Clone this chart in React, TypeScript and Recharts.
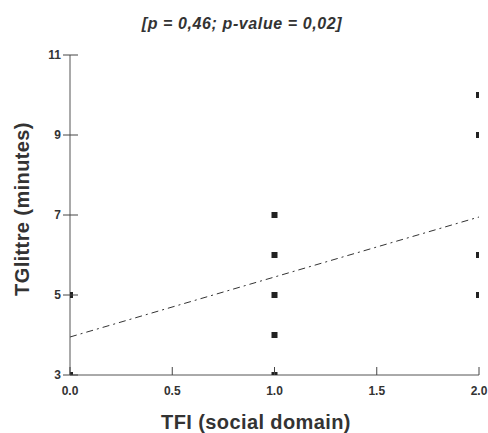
import { ScatterChart, Scatter, XAxis, YAxis, ReferenceLine } from "recharts";

// TFI social domain score vs TGlittre time
const tfiScores = [0, 0, 1, 1, 1, 1, 1, 2, 2, 2, 2];
const glittreMinutes = [3, 5, 3, 4, 5, 6, 7, 5, 6, 9, 10];

const trendX = [0, 2];
const trendY = [3.95, 6.95];

const xTicks = [0, 0.5, 1, 1.5, 2];
const yTicks = [3, 5, 7, 9, 11];

const points = tfiScores.map((x, i) => ({ x, y: glittreMinutes[i] }));

const font = "'Liberation Sans', Arial, sans-serif";

function XTick(props: any) {
  const { x, y, payload } = props;
  return (
    <g>
      <line x1={x} x2={x} y1={y - 8} y2={y} stroke="#444" />
      <text x={x} y={y + 20} textAnchor="middle" fontSize={12} fontWeight="bold" fill="#333" fontFamily={font}>
        {Number(payload.value).toFixed(1)}
      </text>
    </g>
  );
}

function YTick(props: any) {
  const { x, y, payload } = props;
  return (
    <g>
      <line x1={x + 1} x2={x + 16} y1={y} y2={y} stroke="#444" />
      <text x={x - 1} y={y + 4} textAnchor="end" fontSize={12} fontWeight="bold" fill="#333" fontFamily={font}>
        {payload.value}
      </text>
    </g>
  );
}

function Square(props: any) {
  const { cx, cy } = props;
  return <rect x={cx - 3} y={cy - 3} width={6} height={6} fill="#222" />;
}

const labelStyle = {
  position: "absolute" as const,
  fontFamily: font,
  fontWeight: "bold" as const,
  color: "#333",
  whiteSpace: "nowrap" as const,
  lineHeight: 1,
};

export default function App() {
  return (
    <div style={{ position: "absolute", left: 0, top: 0, width: 488, height: 433, background: "#fff", overflow: "hidden" }}>
      <ScatterChart width={488} height={433} margin={{ top: 55, right: 9, bottom: 0, left: 0 }}>
        <XAxis
          type="number"
          dataKey="x"
          domain={[0, 2]}
          ticks={xTicks}
          tick={<XTick />}
          tickLine={false}
          tickSize={0}
          tickMargin={0}
          height={58}
          axisLine={{ stroke: "#555" }}
          allowDataOverflow
        />
        <YAxis
          type="number"
          dataKey="y"
          domain={[3, 11]}
          ticks={yTicks}
          tick={<YTick />}
          tickLine={false}
          tickSize={0}
          tickMargin={8}
          width={70}
          axisLine={{ stroke: "#555" }}
          allowDataOverflow
        />
        <ReferenceLine
          segment={[
            { x: trendX[0], y: trendY[0] },
            { x: trendX[1], y: trendY[1] },
          ]}
          stroke="#333"
          strokeWidth={1}
          strokeDasharray="7 4 2 4"
        />
        <Scatter data={points} shape={<Square />} isAnimationActive={false} />
      </ScatterChart>
      <div style={{ ...labelStyle, left: 0, top: 16, width: 488, textAlign: "center", fontSize: 16, fontStyle: "italic", letterSpacing: 0.6, marginLeft: -2 }}>
        [p = 0,46; p-value = 0,02]
      </div>
      <div style={{ ...labelStyle, left: 156, width: 200, top: 412, textAlign: "center", fontSize: 20, letterSpacing: 0.4 }}>
        TFI (social domain)
      </div>
      <div
        style={{
          ...labelStyle,
          left: 22 - 100,
          top: 209 - 10,
          width: 200,
          textAlign: "center",
          fontSize: 20,
          letterSpacing: 0.4,
          transform: "rotate(-90deg)",
        }}
      >
        TGlittre (minutes)
      </div>
    </div>
  );
}
